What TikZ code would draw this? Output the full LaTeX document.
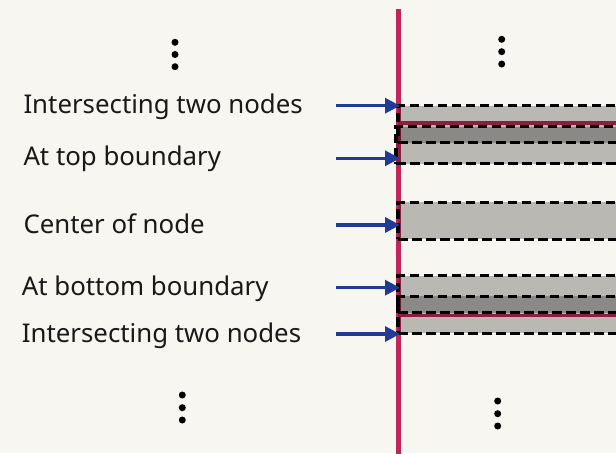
\documentclass[tikz,border=0pt]{standalone}
\usepackage{fontspec}
\setmainfont{Noto Sans}
\usetikzlibrary{arrows.meta}
\definecolor{bgc}{HTML}{F7F6F0}
\definecolor{redc}{HTML}{C0265A}
\definecolor{bluec}{HTML}{213A93}
\tikzset{
  lbl/.style={anchor=base west, inner sep=0pt, font=\fontsize{25.8}{30}\selectfont, text=black!90},
  nodebox/.style={draw=black, line width=3.3pt, dash pattern=on 9.5pt off 4.5pt,
    fill=black, fill opacity=0.25, draw opacity=1, minimum width=300pt, minimum height=37pt,
    inner sep=0pt, anchor=north west, outer sep=0pt},
  pointer/.style={draw=bluec, line width=3.2pt, -{Triangle[length=15pt,width=15pt]}},
  redline/.style={draw=redc, line width=3.5pt},
  dotn/.style={circle, fill=black, inner sep=0pt, minimum size=7pt}
}
\begin{document}
\begin{tikzpicture}[x=1pt,y=-1pt]
\useasboundingbox (0,0) rectangle (616,453);
\fill[bgc] (0,0) rectangle (616,453);
\clip (0,0) rectangle (616,453);
% red boundary lines
\coordinate (vtop) at (398,9);
\coordinate (vbot) at (398,460);
\draw[draw=redc, line width=5pt] (vtop) -- (vbot);
\coordinate (h1a) at (398,123);
\coordinate (h1b) at (700,123);
\coordinate (h2a) at (398,315.5);
\coordinate (h2b) at (700,315.5);
\draw[redline] (h1a) -- (h1b);
\draw[redline] (h2a) -- (h2b);
% boxes
\node[nodebox] (b1) at (398,105.7) {};
\node[nodebox] (b2) at (396,126.7) {};
\node[nodebox] (b3) at (398,202.3) {};
\node[nodebox] (b4) at (398,275.8) {};
\node[nodebox] (b5) at (398,296.3) {};
% labels
\node[lbl] (l1) at (23.3,113) {Intersecting two nodes};
\node[lbl] (l2) at (23.3,165.5) {At top boundary};
\node[lbl] (l3) at (23.3,233) {Center of node};
\node[lbl] (l4) at (21.7,295.5) {At bottom boundary};
\node[lbl] (l5) at (21.7,342) {Intersecting two nodes};
% arrows
\coordinate (s1) at (336,105.7);
\coordinate (s2) at (336,158.3);
\coordinate (s3) at (336,225);
\coordinate (s4) at (336,287.7);
\coordinate (s5) at (336,334);
\coordinate (t1) at (400,105.7);
\coordinate (t2) at (400,158.3);
\coordinate (t3) at (400,225);
\coordinate (t4) at (400,287.7);
\coordinate (t5) at (400,334);
\draw[pointer] (s1) -- (t1);
\draw[pointer] (s2) -- (t2);
\draw[pointer] (s3) -- (t3);
\draw[pointer] (s4) -- (t4);
\draw[pointer] (s5) -- (t5);
% vertical ellipses
\node[dotn] (d1a) at (175,42.3) {};
\node[dotn] (d1b) at (175,54.5) {};
\node[dotn] (d1c) at (175,66.7) {};
\node[dotn] (d2a) at (501.7,39.3) {};
\node[dotn] (d2b) at (501.7,51.7) {};
\node[dotn] (d2c) at (501.7,64) {};
\node[dotn] (d3a) at (182.3,395) {};
\node[dotn] (d3b) at (182.3,407.7) {};
\node[dotn] (d3c) at (182.3,420) {};
\node[dotn] (d4a) at (497.7,401) {};
\node[dotn] (d4b) at (497.7,413.7) {};
\node[dotn] (d4c) at (497.7,426) {};
\end{tikzpicture}
\end{document}
